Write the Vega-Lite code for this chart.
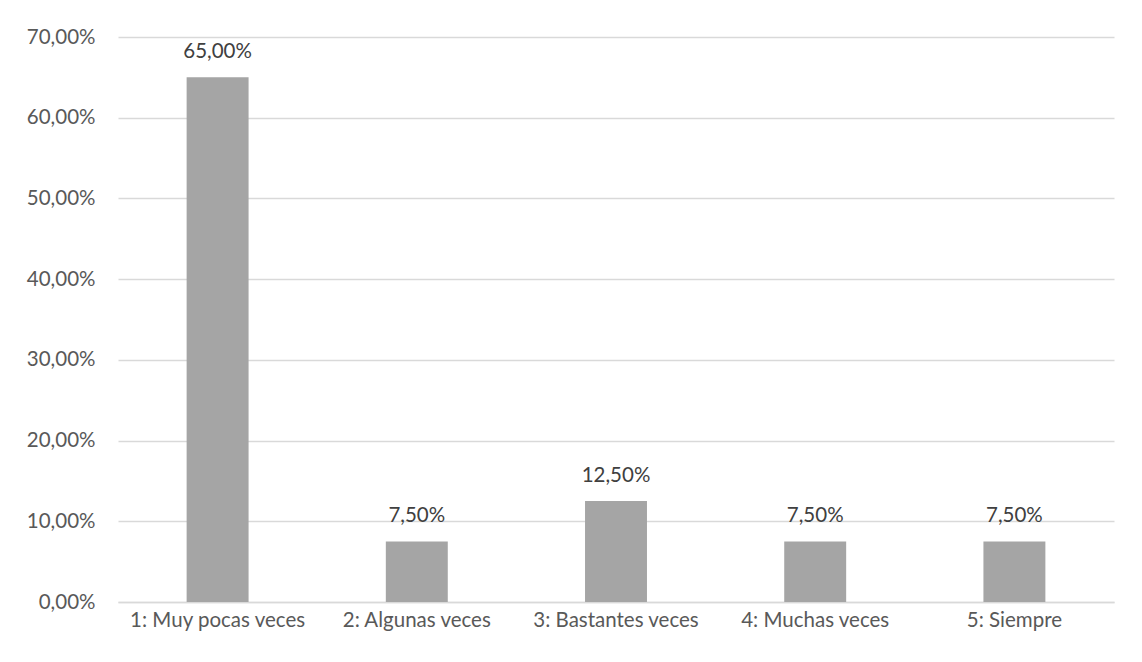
{
  "$schema": "https://vega.github.io/schema/vega-lite/v6.json",
  "width": 996,
  "height": 565,
  "autosize": "none",
  "padding": {"left": 118, "top": 37, "right": 28, "bottom": 60},
  "background": "white",
  "config": {
    "locale": {"number": {"decimal": ",", "thousands": ".", "grouping": [3], "currency": ["", " €"]}},
    "view": {"stroke": null},
    "font": "Lato"
  },
  "data": {
    "values": [
      {"categoria": "1: Muy pocas veces", "porcentaje": 0.65},
      {"categoria": "2: Algunas veces", "porcentaje": 0.075},
      {"categoria": "3: Bastantes veces", "porcentaje": 0.125},
      {"categoria": "4: Muchas veces", "porcentaje": 0.075},
      {"categoria": "5: Siempre", "porcentaje": 0.075}
    ]
  },
  "encoding": {
    "x": {
      "field": "categoria",
      "type": "nominal",
      "sort": null,
      "scale": {"paddingInner": 0.689, "paddingOuter": 0.3445},
      "axis": {
        "title": null,
        "labelAngle": 0,
        "labelFont": "Lato",
        "labelFontSize": 20.5,
        "labelColor": "#595959",
        "labelPadding": 8,
        "ticks": false,
        "domain": true,
        "domainColor": "#d9d9d9",
        "domainWidth": 1.3,
        "grid": false
      }
    },
    "y": {
      "field": "porcentaje",
      "type": "quantitative",
      "scale": {"domain": [0, 0.7], "nice": false},
      "axis": {
        "title": null,
        "values": [0, 0.1, 0.2, 0.3, 0.4, 0.5, 0.6, 0.7],
        "format": ".2%",
        "labelFont": "Lato",
        "labelFontSize": 20.5,
        "labelColor": "#595959",
        "labelPadding": 23,
        "ticks": false,
        "domain": false,
        "grid": true,
        "gridColor": "#d9d9d9",
        "gridWidth": 1.3
      }
    }
  },
  "layer": [
    {"mark": {"type": "bar", "color": "#a5a5a5"}},
    {
      "mark": {"type": "text", "baseline": "middle", "dy": -25, "font": "Lato", "fontSize": 20.5, "color": "#404040"},
      "encoding": {"text": {"field": "porcentaje", "type": "quantitative", "format": ".2%"}}
    }
  ]
}
